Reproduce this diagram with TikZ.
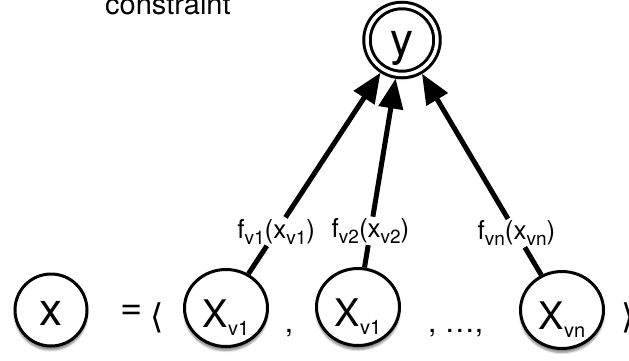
\documentclass[tikz,border=0pt]{standalone}
\usepackage{fontspec}
\setmainfont{TeX Gyre Heros}
\newfontfamily\djv{DejaVu Sans}
\usetikzlibrary{arrows.meta,calc,shapes.geometric,shadows.blur}
\newcommand\sbx[3]{\raisebox{-#2pt}{\fontsize{#1pt}{#1pt}\selectfont #3}}
\tikzset{
  circ/.style={ellipse, draw, line width=3pt, fill=white, inner sep=0pt,
    blur shadow={shadow xshift=0pt, shadow yshift=-4pt, shadow blur steps=6, shadow opacity=50}},
  conn/.style={line width=5pt},
  tipconn/.style={conn, -{Triangle[length=30pt,width=24pt]}, shorten >=3pt},
  lbl/.style={fill=white, inner sep=1.5pt, font=\fontsize{26pt}{26pt}\selectfont},
  big/.style={font=\fontsize{46pt}{46pt}\selectfont},
  med/.style={font=\fontsize{38pt}{38pt}\selectfont},
  plain/.style={inner sep=0pt},
}
\begin{document}
\begin{tikzpicture}[x=1pt,y=-1pt]
\useasboundingbox (0,0) rectangle (629,361);
\node[anchor=base west, plain, font=\fontsize{29pt}{29pt}\selectfont] (cons) at (105,15) {constraint};
\node[circ, double, double distance=3.5pt, line width=3pt, minimum width=70pt, minimum height=69pt, big, text height=31pt, text depth=0pt] (yy) at (402,40) {y};
\node[circ, minimum width=72pt, minimum height=72pt, big, text height=31pt, text depth=0pt] (xx) at (51,310) {x};
\node[circ, minimum width=83pt, minimum height=77pt, med, text height=38pt, text depth=0pt] (x1) at (226,308) {X\sbx{20}{8}{v1}};
\node[circ, minimum width=83pt, minimum height=77pt, med, text height=38pt, text depth=0pt] (x2) at (358,307) {X\sbx{20}{8}{v1}};
\node[circ, minimum width=83pt, minimum height=77pt, med, text height=38pt, text depth=0pt] (x3) at (562,310) {X\sbx{20}{8}{vn}};
\node[plain, font=\fontsize{38pt}{38pt}\selectfont] (eq) at (132,312) {=};
\node[plain, font=\djv\fontsize{34pt}{34pt}\selectfont] (lang) at (157,318) {⟨};
\node[plain, anchor=west, font=\djv\fontsize{34pt}{34pt}\selectfont] (rang) at (621,318) {⟩};
\node[plain, anchor=base, font=\fontsize{30pt}{30pt}\selectfont] (c1) at (289,332) {,};
\node[plain, anchor=base west, font=\fontsize{30pt}{30pt}\selectfont] (c2) at (428,332) {, …,};
\node[lbl] (l1) at ($(x1)!0.285!(yy)$) {f\sbx{19}{6}{v1}(x\sbx{19}{6}{v1})};
\node[lbl] (l2) at ($(x2)!0.285!(yy)$) {f\sbx{19}{6}{v2}(x\sbx{19}{6}{v2})};
\node[lbl] (l3) at ($(x3)!0.285!(yy)$) {f\sbx{19}{6}{vn}(x\sbx{19}{6}{vn})};
\draw[conn] (x1) -- (l1);
\draw[conn] (x2) -- (l2);
\draw[conn] (x3) -- (l3);
\draw[tipconn] (l1) -- (yy);
\draw[tipconn] (l2) -- (yy);
\draw[tipconn] (l3) -- (yy);
\end{tikzpicture}
\end{document}
